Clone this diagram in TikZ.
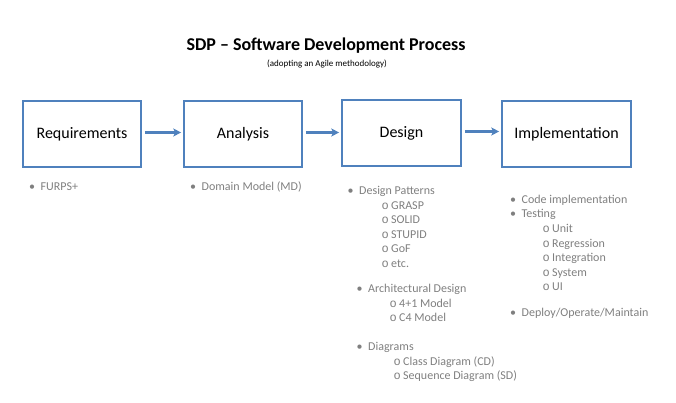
\documentclass[tikz,border=0pt]{standalone}
\usepackage{fontspec}
\setmainfont{Carlito}
\newfontfamily\monof{Liberation Mono}
\usetikzlibrary{arrows.meta}
\definecolor{boxblue}{HTML}{4F81BD}
\definecolor{listgray}{HTML}{7F7F7F}
\newcommand\bul[1]{\makebox[11.5pt][l]{•}#1}
\newcommand\sbul[1]{\makebox[9.6pt][l]{\monof o}#1}
\tikzset{
  stage/.style={draw=boxblue, line width=1.6pt, minimum width=#1, minimum height=66pt, inner sep=0pt, font=\fontsize{16}{19}\selectfont},
  arr/.style={draw=boxblue, line width=2.2pt, -{Stealth[length=8pt,width=8pt,inset=2pt]}, shorten <=3pt, shorten >=2pt},
  item/.style={anchor=base west, inner sep=0pt, font=\fontsize{12}{14}\selectfont, text=listgray},
}
\begin{document}
\begin{tikzpicture}[x=1pt,y=-1pt]
\useasboundingbox (0,0) rectangle (676,403);
\node[font=\fontsize{18}{21}\selectfont\bfseries, inner sep=0pt] (title) at (326,46) {SDP – Software Development Process};
\node[font=\fontsize{9}{11}\selectfont, inner sep=0pt] (sub) at (327,64) {(adopting an Agile methodology)};

\node[stage=118pt] (req) at (82,134) {Requirements};
\node[stage=118pt] (ana) at (243,134) {Analysis};
\node[stage=119pt] (des) at (401.5,133) {Design};
\node[stage=129pt] (imp) at (566.5,134) {Implementation};

\draw[arr] ([yshift=1.5pt]req.east) -- ([yshift=1.5pt]ana.west);
\draw[arr] ([yshift=1.5pt]ana.east) -- ([yshift=1.5pt]ana.east -| des.west);
\draw[arr] ([yshift=1.5pt]des.east) -- ([yshift=1.5pt]des.east -| imp.west);

\node[item] (furps) at (29,191) {\bul{FURPS+}};
\node[item] (md) at (190,191) {\bul{Domain Model (MD)}};

\node[item] (dp) at (347.5,195) {\bul{Design Patterns}};
\node[item] (grasp) at (381.4,209) {\sbul{GRASP}};
\node[item] (solid) at (381.4,223.5) {\sbul{SOLID}};
\node[item] (stupid) at (381.4,238) {\sbul{STUPID}};
\node[item] (gof) at (381.4,252.5) {\sbul{GoF}};
\node[item] (etc) at (381.4,267) {\sbul{etc.}};

\node[item] (arch) at (356.5,292) {\bul{Architectural Design}};
\node[item] (m41) at (389.4,307) {\sbul{4+1 Model}};
\node[item] (c4) at (389.4,321.5) {\sbul{C4 Model}};

\node[item] (diag) at (356.5,350.5) {\bul{Diagrams}};
\node[item] (cd) at (393.4,365) {\sbul{Class Diagram (CD)}};
\node[item] (sd) at (393.4,379.5) {\sbul{Sequence Diagram (SD)}};

\node[item] (code) at (510,204) {\bul{Code implementation}};
\node[item] (test) at (510,218) {\bul{Testing}};
\node[item] (unit) at (542.4,232.5) {\sbul{Unit}};
\node[item] (reg) at (542.4,247) {\sbul{Regression}};
\node[item] (integ) at (542.4,261.5) {\sbul{Integration}};
\node[item] (sys) at (542.4,276) {\sbul{System}};
\node[item] (ui) at (542.4,290.5) {\sbul{UI}};
\node[item] (dep) at (510,316) {\bul{Deploy/Operate/Maintain}};
\end{tikzpicture}
\end{document}
